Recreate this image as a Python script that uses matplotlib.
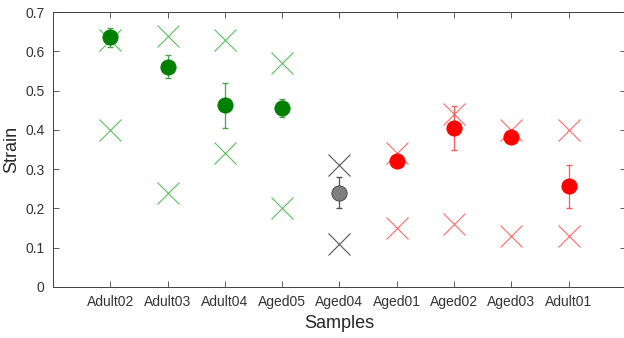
"""
Strain по образцам: среднее с разбросом и крайние значения
"""
import matplotlib
matplotlib.use('Agg')
import matplotlib.pyplot as plt
import numpy as np

plt.rcParams['font.family'] = ['Liberation Sans', 'DejaVu Sans']

samples = ['Adult02', 'Adult03', 'Adult04', 'Aged05', 'Aged04',
           'Aged01', 'Aged02', 'Aged03', 'Adult01']
groups = ['green', 'green', 'green', 'green', 'gray',
          'red', 'red', 'red', 'red']

mean_strain = [0.637, 0.561, 0.463, 0.456, 0.240, 0.320, 0.405, 0.381, 0.256]
err_low = [0.612, 0.532, 0.405, 0.432, 0.200, 0.306, 0.350, 0.368, 0.200]
err_high = [0.660, 0.590, 0.520, 0.480, 0.280, 0.334, 0.460, 0.395, 0.310]
max_strain = [0.630, 0.640, 0.630, 0.570, 0.310, 0.340, 0.440, 0.400, 0.400]
min_strain = [0.400, 0.240, 0.340, 0.200, 0.110, 0.150, 0.160, 0.130, 0.130]

dot_colors = {'green': '#008000', 'gray': '#7f7f7f', 'red': '#ff0000'}
cross_colors = {'green': '#5cbf5c', 'gray': '#555555', 'red': '#ff6a6a'}
bar_colors = {'green': '#4fa04f', 'gray': '#555555', 'red': '#ff5a5a'}

fig = plt.figure(figsize=(6.24, 3.38), dpi=100)
ax = fig.add_axes([0.085, 0.151, 0.918, 0.813])

x = np.arange(1, len(samples) + 1)
for i, g in enumerate(groups):
    # крайние значения
    ax.plot([x[i], x[i]], [max_strain[i], min_strain[i]], 'x', linestyle='none',
            color=cross_colors[g], markersize=16, markeredgewidth=0.8, zorder=2)
    # среднее с разбросом
    ax.errorbar(x[i], mean_strain[i],
                yerr=[[mean_strain[i] - err_low[i]], [err_high[i] - mean_strain[i]]],
                fmt='none', ecolor=bar_colors[g], elinewidth=0.9, capsize=2, zorder=3)
    ax.plot(x[i], mean_strain[i], 'o', color=dot_colors[g],
            markeredgecolor='#404040' if g == 'gray' else dot_colors[g],
            markersize=11, markeredgewidth=0.6, zorder=4)

ax.set_xlim(0, 10)
ax.set_ylim(0, 0.7)
ax.set_xticks(x)
ax.set_xticklabels(samples)
ax.set_yticks(np.arange(0, 0.71, 0.1))
ax.set_yticklabels(['0', '0.1', '0.2', '0.3', '0.4', '0.5', '0.6', '0.7'])
ax.tick_params(direction='in', top=True, right=True, length=4, width=0.6,
               color='#404040', labelcolor='#333333', labelsize=10, pad=6)
for s in ax.spines.values():
    s.set_color('#404040')
    s.set_linewidth(0.7)

ax.set_xlabel('Samples', fontsize=13, color='#262626')
ax.set_ylabel('Strain', fontsize=13, color='#262626')

plt.savefig('out.png', dpi=100)
